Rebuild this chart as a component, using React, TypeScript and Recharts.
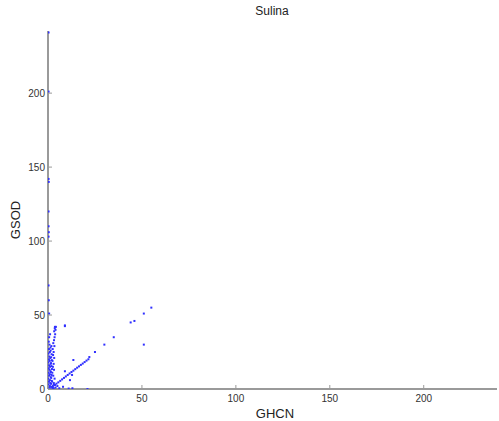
import { ScatterChart, Scatter, XAxis, YAxis } from "recharts";

// GHCN vs GSOD readings
const ghcn = [
  0.3, 0.3, 0.3, 0.4, 0.3, 0.3, 0.4, 0.3, 0.3, 0.4, 0.6,
  0, 0.5, 1, 0.3, 1.2, 0.5, 1, 0.2, 1.5, 0.6, 1, 0.3, 1.3, 0.8, 0.4, 1.1, 0.6, 1.4, 0.2, 0.9,
  0.5, 1.2, 0.7, 0.3, 1, 0.5, 1.3, 0.8, 0.4, 0.6, 1.1,
  1.8, 1.6, 2, 1.7, 1.9, 1.5, 2.1, 1.8, 1.6, 2, 1.7, 1.9, 1.4, 1.8,
  2.5, 3, 2.2, 3.5, 2.8, 2.3, 3.2, 2.6, 3, 2.4, 3.3, 2.7, 3, 2.5, 3.4, 2.8, 3.2, 3.5, 3.8,
  3.3, 4, 3.6, 4.2,
  1.5, 2, 3, 4, 5, 6, 8, 2.6, 3.1, 1.2,
  3.7, 4.5, 5.5, 6.5, 7.5, 8.5, 9.5, 10.5, 11.5, 12.5, 13.5, 14.5, 15.5, 16.5, 17.5, 18.5,
  19.5, 20.5, 21.5, 22,
  12.8, 11.7, 9, 13.5, 21, 13, 11, 9, 25, 30, 35, 44, 46, 51, 55, 51, 3.7, 9,
];
const gsod = [
  241, 201, 142, 140, 120, 110, 106, 103, 70, 60, 51,
  0, 1, 2, 3, 4, 5, 6, 7, 8, 9, 10, 11, 12, 13, 14, 15, 16, 17, 18, 19,
  20, 21, 22, 24, 25, 27, 28, 30, 32, 35, 37,
  1.5, 3.5, 5.5, 7.5, 9.5, 11.5, 13.5, 15.5, 17.5, 19.5, 21.5, 23.5, 26, 29,
  1, 3, 5, 7, 9, 11, 13, 15, 17, 19, 21, 23, 25, 27, 29, 31, 33, 35, 37,
  39, 40, 41, 42,
  0.5, 0, 0.5, 1, 2, 0.5, 1.5, 2, 4, 0.2,
  2.7, 3.6, 4.5, 5.5, 6.5, 7.5, 8.5, 9.5, 10.5, 11.5, 12.4, 13.4, 14.4, 15.3, 16.3, 17.2,
  18.2, 19.2, 20.1, 21.6,
  9.5, 6, 12, 19.6, 0, 0.5, 0.3, 43, 25, 30, 35, 45, 46, 51, 55, 30, 42, 42.5,
];
const ticks = [0, 50, 100, 150, 200];

const data = ghcn.map((x, i) => ({ x, y: gsod[i] }));

const AXIS = "#9a9a9a";
const FONT = "Liberation Sans, Arial, sans-serif";

const XTick = ({ x, y, payload }: any) => (
  <g>
    <line x1={x} x2={x} y1={y} y2={y - 4} stroke={AXIS} />
    <text x={x} y={y + 13} textAnchor="middle" fontSize={10} fill="#333" fontFamily={FONT}>
      {payload.value}
    </text>
  </g>
);

const YTick = ({ x, y, payload }: any) => (
  <g>
    <line x1={x} x2={x + 4} y1={y} y2={y} stroke={AXIS} />
    <text x={x - 3} y={y + 3.5} textAnchor="end" fontSize={10} fill="#333" fontFamily={FONT}>
      {payload.value}
    </text>
  </g>
);

const Dot = ({ cx, cy }: any) => (
  <rect x={cx - 1} y={cy - 1} width={2} height={2} fill="#3030ff" />
);

export default function App() {
  return (
    <div style={{ position: "absolute", left: 0, top: 0, width: 499, height: 421, background: "#fff" }}>
      <div
        style={{
          position: "absolute",
          left: 222,
          width: 100,
          top: 4,
          textAlign: "center",
          fontFamily: FONT,
          fontSize: 12,
          color: "#222",
        }}
      >
        Sulina
      </div>
      <ScatterChart width={499} height={421} margin={{ top: 31, right: 2, bottom: 2, left: 0 }}>
        <XAxis
          type="number"
          dataKey="x"
          domain={[0, 239]}
          ticks={ticks}
          height={30}
          tickSize={0}
          tickMargin={0}
          tickLine={false}
          tick={<XTick />}
          axisLine={{ stroke: AXIS, strokeWidth: 2 }}
          allowDataOverflow
        />
        <YAxis
          type="number"
          dataKey="y"
          domain={[0, 242]}
          ticks={ticks}
          width={48}
          tickSize={0}
          tickMargin={0}
          tickLine={false}
          tick={<YTick />}
          axisLine={{ stroke: AXIS, strokeWidth: 2 }}
          allowDataOverflow
        />
        <Scatter data={data} shape={<Dot />} isAnimationActive={false} />
        <text x={275} y={418} textAnchor="middle" fontSize={13} fill="#222" fontFamily={FONT}>
          GHCN
        </text>
        <text
          x={20}
          y={220}
          textAnchor="middle"
          fontSize={13}
          fill="#222"
          fontFamily={FONT}
          transform="rotate(-90 20 220)"
        >
          GSOD
        </text>
      </ScatterChart>
    </div>
  );
}
